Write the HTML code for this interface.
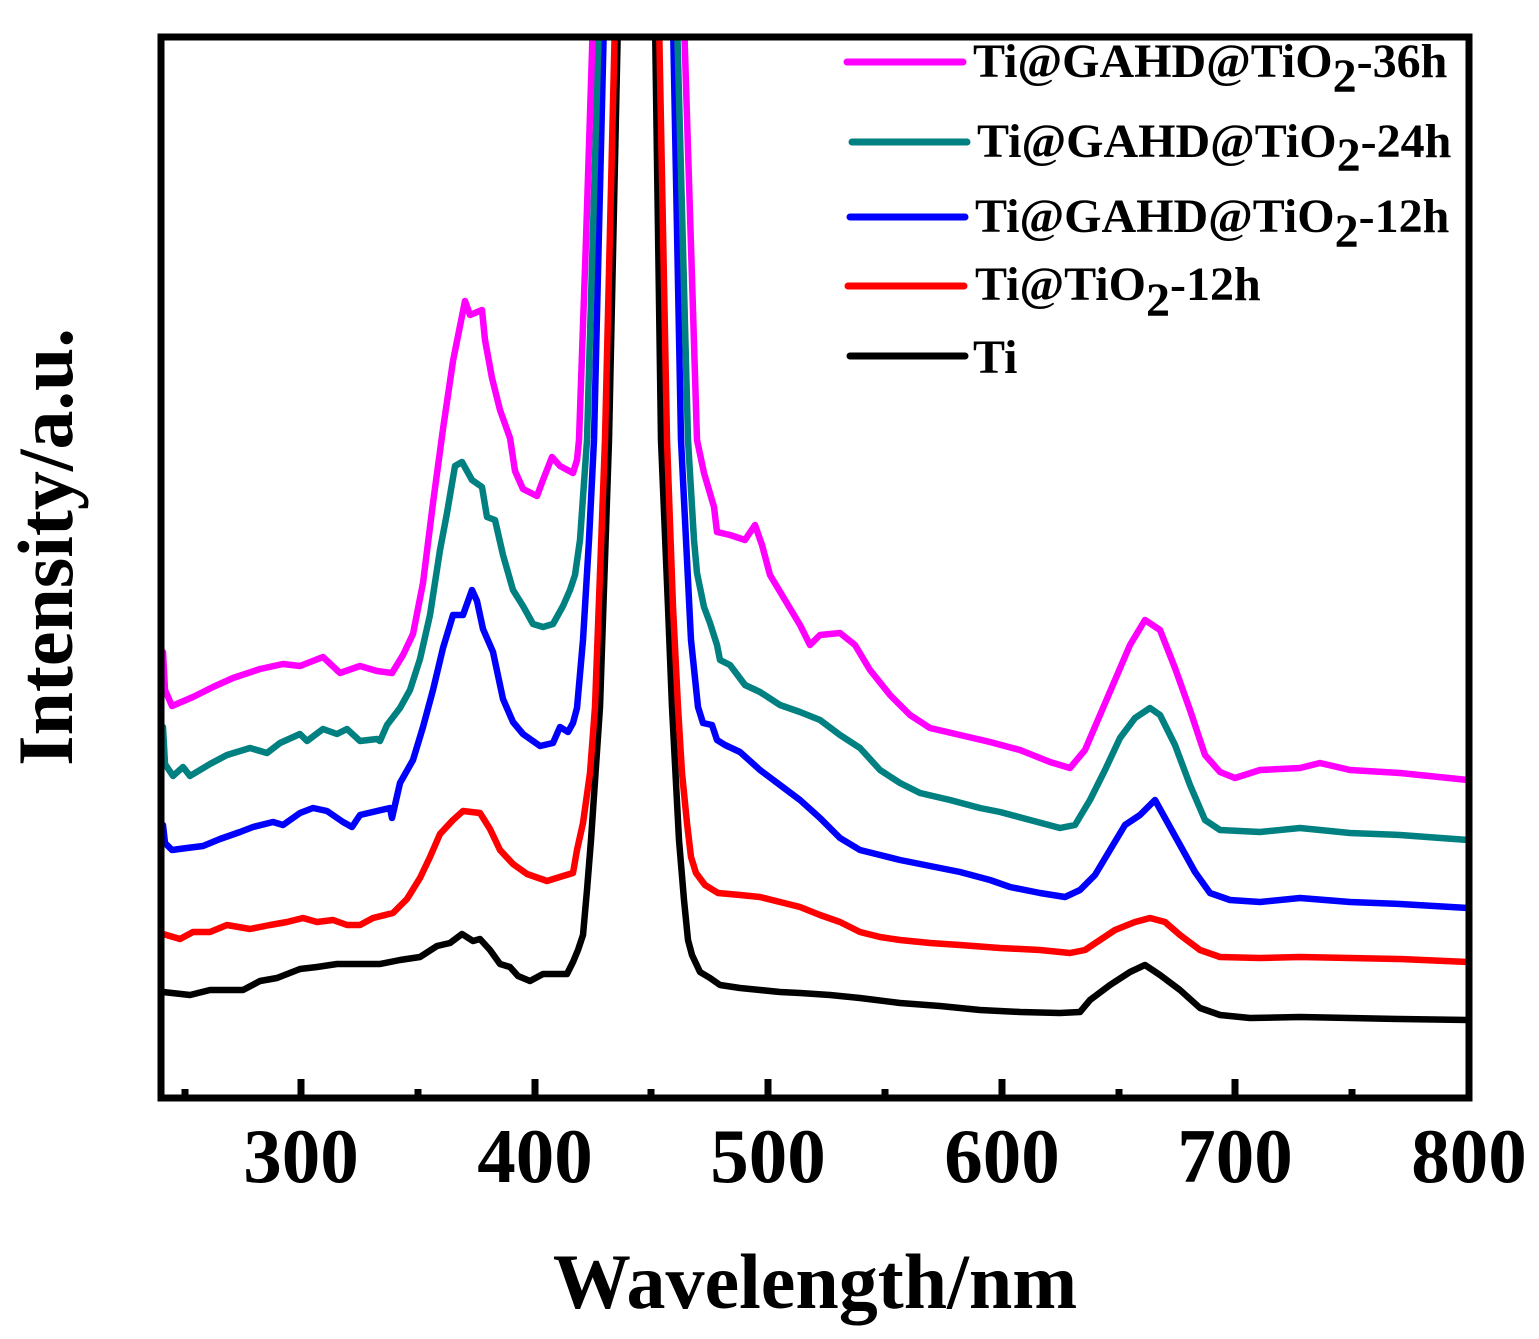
<!DOCTYPE html>
<html>
<head>
<meta charset="utf-8">
<style>
  html, body { margin: 0; padding: 0; background: #ffffff; }
  svg { display: block; }
  text { font-family: "Liberation Serif", "Times New Roman", serif; font-weight: bold; fill: #000; }
</style>
</head>
<body>
<svg width="1539" height="1339" viewBox="0 0 1539 1339" xmlns="http://www.w3.org/2000/svg">
  <rect x="0" y="0" width="1539" height="1339" fill="#ffffff"/>
  <defs>
    <clipPath id="plot">
      <rect x="161" y="40" width="1308" height="1058"/>
    </clipPath>
  </defs>

  <g clip-path="url(#plot)" fill="none" stroke-width="6.5" stroke-linejoin="round" stroke-linecap="round">
    <!-- Ti (black) -->
    <polyline stroke="#000000" points="163,992 190,995 210,990 243,990 260,981 277,978 300,969 317,967 337,964 360,964 380,964 400,960 420,957 437,946 450,943 462,934 473,941 480,939 490,950 500,964 510,967 518,976 530,981 543,974 567,974 573,962 578,950 583,935 587,890 591,840 600,707 609,440 618,20 655,20 661,440 668,607 672,707 679,840 684,900 688,940 692,955 700,972 710,978 720,985 740,988 760,990 780,992 800,993 830,995 860,998 900,1003 940,1006 980,1010 1020,1012 1060,1013 1080,1012 1090,1000 1110,985 1130,972 1145,965 1160,975 1180,990 1200,1008 1220,1015 1250,1018 1300,1017 1350,1018 1400,1019 1468,1020"/>
    <!-- Ti@TiO2-12h (red) -->
    <polyline stroke="#ff0000" points="163,934 180,939 193,932 210,932 227,925 250,929 270,925 287,922 303,918 317,922 333,920 347,925 360,925 373,918 393,913 407,899 420,878 430,857 440,834 453,820 463,811 480,813 490,829 500,850 513,864 527,874 547,881 563,876 573,873 577,850 583,823 590,773 595,707 605,440 615,20 659,20 667,440 673,607 678,707 682,773 687,823 691,857 696,873 705,885 718,893 740,895 760,897 780,902 800,907 820,915 840,922 860,932 880,937 900,940 930,943 960,945 1000,948 1040,950 1070,953 1085,950 1100,940 1115,930 1135,922 1150,918 1165,922 1180,935 1200,950 1220,957 1260,958 1300,957 1350,958 1400,959 1468,962"/>
    <!-- 12h (blue) -->
    <polyline stroke="#0000ff" points="163,825 165,843 172,850 187,848 203,846 220,839 240,832 253,827 273,822 283,825 300,813 313,808 327,811 343,822 352,827 360,815 377,811 390,808 392,818 400,783 413,760 423,727 433,690 443,648 453,615 463,615 472,590 477,601 483,629 493,652 503,699 513,722 523,734 540,746 553,743 560,727 568,732 573,723 577,708 583,640 589,540 594,440 604,20 673,20 681,440 686,540 691,640 698,707 703,723 712,725 717,740 725,745 740,752 760,770 780,785 800,800 820,818 840,838 860,850 880,855 900,860 930,866 960,872 990,880 1010,887 1040,893 1065,897 1080,890 1095,875 1110,850 1125,825 1140,815 1155,800 1165,818 1180,845 1195,872 1210,893 1230,900 1260,902 1300,898 1350,902 1400,904 1468,908"/>
    <!-- 24h (teal) -->
    <polyline stroke="#008080" points="163,727 165,764 173,776 183,767 190,776 210,764 227,755 250,748 267,753 280,743 300,734 307,741 323,729 337,734 347,729 360,741 377,739 380,741 387,725 400,708 410,690 420,659 430,615 440,550 447,513 455,466 462,462 472,480 482,487 487,517 495,520 503,555 513,590 523,606 533,624 543,627 553,624 563,606 570,590 575,575 580,540 587,440 599,20 677,20 688,440 694,540 697,573 704,607 710,623 717,645 720,660 730,665 745,685 760,692 780,705 800,712 820,720 840,735 860,748 880,770 900,783 920,793 950,800 980,808 1000,812 1030,820 1060,828 1075,825 1090,800 1105,770 1120,738 1135,718 1150,708 1160,715 1175,745 1190,785 1205,820 1220,830 1260,832 1300,828 1350,833 1400,835 1468,840"/>
    <!-- 36h (magenta) -->
    <polyline stroke="#ff00ff" points="163,652 165,690 172,706 193,697 213,687 233,678 260,669 283,664 300,666 323,657 340,673 360,666 377,671 392,673 403,655 413,634 423,583 433,503 443,429 453,361 465,301 470,315 482,310 485,340 492,378 500,410 510,438 515,471 523,489 537,496 543,480 552,457 560,466 573,473 577,460 579,440 586,240 593,20 684,20 697,440 704,473 714,507 717,532 730,535 745,540 755,525 762,545 770,575 785,600 800,625 810,645 820,635 840,633 855,645 870,670 890,695 910,715 930,728 960,735 990,742 1020,750 1050,762 1070,768 1085,750 1100,715 1115,680 1130,645 1145,620 1160,630 1175,668 1190,710 1205,755 1220,772 1235,778 1260,770 1300,768 1320,763 1350,770 1400,773 1468,780"/>
  </g>

  <!-- Frame -->
  <rect x="161" y="37" width="1308" height="1061" fill="none" stroke="#000" stroke-width="7"/>

  <!-- Ticks -->
  <g stroke="#000" stroke-width="7">
    <line x1="301" y1="1098" x2="301" y2="1079"/>
    <line x1="535" y1="1098" x2="535" y2="1079"/>
    <line x1="768" y1="1098" x2="768" y2="1079"/>
    <line x1="1002" y1="1098" x2="1002" y2="1079"/>
    <line x1="1235" y1="1098" x2="1235" y2="1079"/>
    <line x1="185" y1="1098" x2="185" y2="1089"/>
    <line x1="418" y1="1098" x2="418" y2="1089"/>
    <line x1="651" y1="1098" x2="651" y2="1089"/>
    <line x1="885" y1="1098" x2="885" y2="1089"/>
    <line x1="1119" y1="1098" x2="1119" y2="1089"/>
    <line x1="1352" y1="1098" x2="1352" y2="1089"/>
  </g>

  <!-- Tick labels -->
  <g font-size="77" text-anchor="middle">
    <text x="301" y="1182">300</text>
    <text x="535" y="1182">400</text>
    <text x="768" y="1182">500</text>
    <text x="1002" y="1182">600</text>
    <text x="1235" y="1182">700</text>
    <text x="1469" y="1182">800</text>
  </g>

  <!-- Axis titles -->
  <text x="815" y="1308" font-size="78" text-anchor="middle">Wavelength/nm</text>
  <text x="0" y="0" font-size="78" text-anchor="middle" transform="translate(72,547) rotate(-90)">Intensity/a.u.</text>

  <!-- Legend -->
  <g stroke-width="7" stroke-linecap="round">
    <line x1="847" y1="62" x2="963" y2="62" stroke="#ff00ff"/>
    <line x1="852" y1="142" x2="967" y2="142" stroke="#008080"/>
    <line x1="850" y1="217" x2="965" y2="217" stroke="#0000ff"/>
    <line x1="848" y1="286" x2="964" y2="286" stroke="#ff0000"/>
    <line x1="850" y1="356" x2="965" y2="356" stroke="#000000"/>
  </g>
  <g font-size="48">
    <text x="973" y="77">Ti@GAHD@TiO<tspan dy="15">2</tspan><tspan dy="-15">-36h</tspan></text>
    <text x="977" y="157">Ti@GAHD@TiO<tspan dy="14">2</tspan><tspan dy="-14">-24h</tspan></text>
    <text x="975" y="232">Ti@GAHD@TiO<tspan dy="15">2</tspan><tspan dy="-15">-12h</tspan></text>
    <text x="975" y="300">Ti@TiO<tspan dy="16">2</tspan><tspan dy="-16">-12h</tspan></text>
    <text x="973" y="373">Ti</text>
  </g>
</svg>
</body>
</html>
